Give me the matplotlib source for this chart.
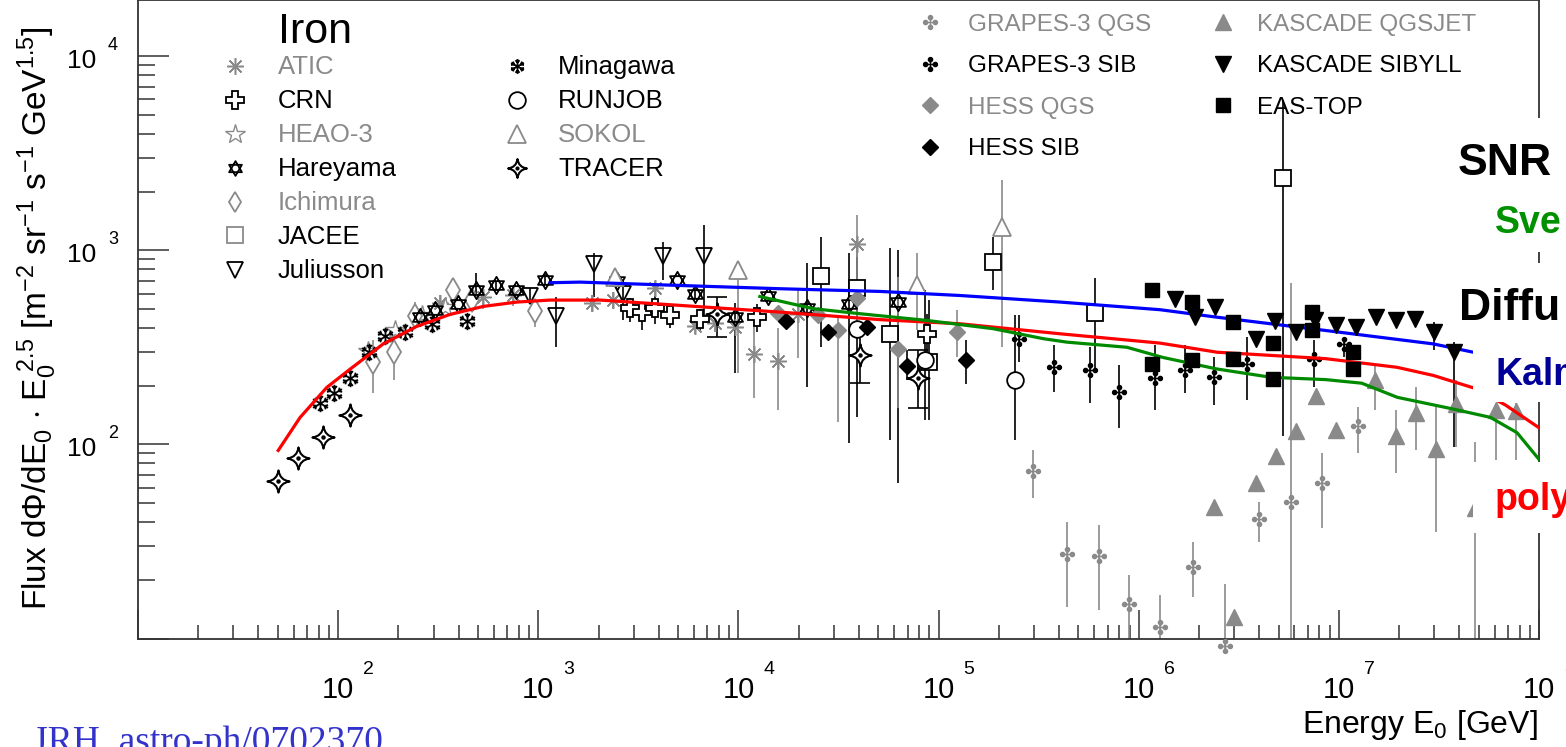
import numpy as np
import matplotlib
matplotlib.use('Agg')
import matplotlib.pyplot as plt
from matplotlib.path import Path
from matplotlib.patches import Rectangle
from matplotlib.ticker import LogLocator, NullFormatter

plt.rcParams['font.family'] = ['Liberation Sans', 'DejaVu Sans']
plt.rcParams['mathtext.fontset'] = 'custom'
plt.rcParams['mathtext.rm'] = 'Liberation Sans'
plt.rcParams['mathtext.it'] = 'Liberation Sans:italic'
plt.rcParams['mathtext.bf'] = 'Liberation Sans:bold'

# ---------------- data (energy in GeV, flux * E^2.5) ----------------
tracer_E = [50, 63, 84, 115, 7.8e3, 4.05e4, 7.9e4]
tracer_F = [65, 85, 109, 142, 473, 288, 221]
tracer_lo = [65, 85, 109, 142, 358, 207, 154]
tracer_hi = [65, 85, 109, 142, 576, 389, 307]

minagawa_E = [81, 95.5, 115, 142, 172, 216, 294, 439]
minagawa_F = [163, 184, 221, 299, 361, 379, 416, 432]

hareyama_E = [255, 305, 399, 488, 614, 773, 1080, 2470, 4960, 6080, 9640, 1.41e4, 2.2e4, 3.55e4, 6.25e4]
hareyama_F = [453, 494, 527, 627, 660, 627, 706, 700, 706, 598, 452, 586, 508, 531, 542]
hareyama_lo = [453, 494, 527, 524, 620, 627, 660, 660, 706, 560, 234, 586, 198, 102, 63]
hareyama_hi = [453, 494, 527, 766, 700, 627, 760, 740, 706, 640, 536, 586, 863, 971, 1005]

ichimura_E = [149, 190, 242, 375, 467, 964]
ichimura_F = [265, 298, 462, 622, 553, 485]
ichimura_lo = [184, 215, 413, 524, 500, 403]
ichimura_hi = [346, 376, 543, 632, 610, 555]

atic_E = [323, 530, 748, 1860, 2370, 3840, 6080, 7650, 9640, 1.2e4, 1.58e4, 1.99e4, 3.92e4]
atic_F = [533, 573, 587, 533, 553, 637, 410, 421, 401, 291, 268, 473, 1086]
atic_lo = [480, 500, 520, 480, 500, 580, 370, 380, 360, 174, 151, 279, 555]
atic_hi = [590, 640, 650, 590, 610, 700, 450, 470, 440, 512, 398, 634, 1521]

heao_E = [141, 192, 262, 342]
heao_F = [305, 387, 467, 514]

crn_E = [2880, 3290, 3840, 4560, 6440, 1.24e4, 8.77e4]
crn_F = [507, 481, 508, 467, 446, 452, 369]
crn_lo = [428, 389, 420, 400, 380, 380, 300]
crn_hi = [569, 537, 580, 530, 500, 530, 470]

jacee_E = [2.58e4, 3.91e4, 5.73e4, 8.98e4, 1.88e5, 6.07e5, 5.27e6]
jacee_F = [743, 637, 373, 266, 871, 475, 2350]
jacee_lo = [318, 139, 105, 134, 625, 242, 111]
jacee_hi = [1175, 927, 1027, 555, 1175, 721, 5970]

juliusson_E = [910, 1230, 1900, 2660, 4210, 6750]
juliusson_F = [586, 457, 848, 600, 942, 942]
juliusson_lo = [540, 318, 576, 438, 704, 438]
juliusson_hi = [640, 576, 968, 704, 1107, 1355]

sokol_E = [2420, 1.0e4, 7.78e4, 2.07e5]
sokol_F = [726, 794, 660, 1318]
sokol_lo = [726, 234, 389, 318]
sokol_hi = [726, 794, 971, 2306]

runjob_E = [3.91e4, 8.57e4, 2.42e5]
runjob_F = [396, 271, 216]
runjob_lo = [396, 134, 105]
runjob_hi = [396, 625, 465]

hess_sib_E = [1.73e4, 2.79e4, 4.37e4, 6.95e4, 1.37e5]
hess_sib_F = [432, 379, 402, 254, 271]
hess_sib_lo = [400, 350, 370, 215, 205]
hess_sib_hi = [470, 410, 440, 307, 346]

hess_qgs_E = [1.57e4, 2.49e4, 3.16e4, 3.93e4, 6.24e4, 1.23e5]
hess_qgs_F = [475, 466, 387, 570, 311, 382]
hess_qgs_lo = [435, 430, 131, 403, 154, 282]
hess_qgs_hi = [515, 505, 454, 1133, 731, 493]

grapes_sib_E = [2.53e5, 3.76e5, 5.69e5, 7.94e5, 1.2e6, 1.7e6, 2.38e6, 3.47e6, 7.48e6, 1.06e7]
grapes_sib_F = [348, 252, 241, 186, 219, 241, 222, 261, 277, 330]
grapes_sib_lo = [266, 187, 164, 122, 151, 184, 160, 169, 198, 282]
grapes_sib_hi = [465, 326, 318, 257, 326, 326, 282, 358, 346, 358]

grapes_qgs_E = [2.98e5, 4.38e5, 6.32e5, 8.99e5, 1.28e6, 1.86e6, 2.71e6, 3.97e6, 5.74e6, 8.22e6, 1.24e7]
grapes_qgs_F = [72.8, 27.3, 26.5, 15.1, 11.4, 23.3, 9.2, 41.4, 50.8, 63.2, 124]
grapes_qgs_lo = [53.0, 14.5, 14.0, 10, 10, 16.4, 8.7, 31.5, 10, 37.2, 90.3]
grapes_qgs_hi = [93.7, 39.9, 38.5, 21.2, 16.7, 31.5, 19.1, 50.6, 681, 90.3, 156]

kascade_qgs_E = [2.39e6, 3.01e6, 3.84e6, 4.85e6, 6.12e6, 7.70e6, 9.68e6, 1.52e7, 1.93e7, 2.42e7,
                 3.06e7, 3.86e7, 4.80e7, 6.08e7, 7.66e7]
kascade_qgs_F = [47.5, 12.9, 63.2, 87.7, 118, 177, 119, 214, 110, 145, 95.1, 162, 46.8, 150, 148]
kascade_qgs_lo = [47.5, 12.9, 63.2, 87.7, 118, 177, 119, 151, 71.3, 93.7, 35.4, 97, 10, 83.2, 83.2]
kascade_qgs_hi = [47.5, 12.9, 63.2, 87.7, 118, 177, 119, 257, 151, 198, 156, 215, 103, 164, 164]

kascade_sib_E = [1.52e6, 1.91e6, 2.40e6, 3.85e6, 4.82e6, 6.08e6, 7.62e6, 9.66e6, 1.22e7, 1.53e7,
                 1.92e7, 2.41e7, 2.98e7, 3.78e7]
kascade_sib_F = [564, 453, 514, 351, 432, 379, 436, 411, 402, 453, 436, 444, 378, 299]
kascade_sib_lo = [564, 453, 514, 351, 432, 379, 436, 411, 402, 453, 436, 444, 307, 97]
kascade_sib_hi = [564, 453, 514, 351, 432, 379, 436, 411, 402, 453, 436, 444, 428, 338]

eastop_E = [1.17e6, 1.84e6, 2.96e6, 4.68e6, 7.31e6, 1.18e7,
            1.17e6, 1.84e6, 2.96e6, 4.68e6, 7.31e6, 1.18e7]
eastop_F = [622, 542, 427, 333, 481, 299,
            261, 273, 277, 218, 387, 245]

# model curves
kalmykov_E = [1146, 1618, 5120, 1.62e4, 5.1e4, 1.28e5, 4.05e5, 1.28e6, 2.46e6, 8.57e6, 2.96e7, 4.69e7]
kalmykov_F = [682, 687, 660, 635, 615, 586, 542, 495, 453, 387, 330, 299]

poly_E = [50.2, 64.6, 87.8, 115, 168, 247, 362, 532, 781, 1146, 2040, 5120, 1.62e4, 5.1e4,
          1.28e5, 4.05e5, 1.28e6, 2.46e6, 8.57e6, 1.95e7, 2.96e7, 4.69e7, 6.78e7, 1e8]
poly_F = [93.2, 138, 197, 245, 330, 406, 468, 515, 542, 555, 555, 521, 481, 440,
          419, 372, 333, 299, 277, 250, 227, 196, 160, 122]

svesh_E = [1.28e4, 2.37e4, 4.06e4, 8.73e4, 1.88e5, 3.34e5, 4.37e5, 8.73e5, 1.32e6, 2.46e6,
           4.58e6, 8.57e6, 1.3e7, 1.96e7, 3.65e7, 5.71e7, 7.77e7, 1e8]
svesh_F = [579, 501, 472, 436, 395, 351, 337, 317, 281, 245, 222, 216, 207, 175, 153, 138, 115, 83.8]

x_exponents = [2, 3, 4, 5, 6, 7, 8]
y_exponents = [2, 3, 4]

# ---------------- marker shapes ----------------
def star4_path():
    c = 0.12
    verts = [(0, 1), (c, c), (1, 0), (c, -c), (0, -1), (-c, -c), (-1, 0), (-c, c), (0, 1), (0, 1)]
    codes = [Path.MOVETO] + [Path.CURVE3] * 8 + [Path.CLOSEPOLY]
    return Path(verts, codes)


def david_path():
    a = np.deg2rad([90, 210, 330])
    up = Path(list(zip(np.cos(a), np.sin(a))) + [(0, 0)], [1, 2, 2, 79])
    dn = Path(list(zip(np.cos(a + np.pi), np.sin(a + np.pi))) + [(0, 0)], [1, 2, 2, 79])
    return Path.make_compound_path(up, dn)


def snow_path():
    parts = []
    for ang in np.deg2rad([90, 150, 210, 270, 330, 30]):
        d = np.array([np.cos(ang), np.sin(ang)])
        p = np.array([-d[1], d[0]])
        parts.append(Path([(0, 0), tuple(d)], [1, 2]))
        base = 0.55 * d
        parts.append(Path([tuple(base + 0.3 * d + 0.28 * p), tuple(base), tuple(base + 0.3 * d - 0.28 * p)], [1, 2, 2]))
    return Path.make_compound_path(*parts)


def grape_path():
    parts = [Path([(-0.75, 0), (0.75, 0)], [1, 2]), Path([(0, -0.75), (0, 0.75)], [1, 2])]
    for cx, cy in [(0.6, 0), (-0.6, 0), (0, 0.6), (0, -0.6)]:
        parts.append(Path.circle((cx, cy), 0.26))
    return Path.make_compound_path(*parts)


STAR4 = star4_path()
DAVID = david_path()
SNOW = snow_path()
GRAPE = grape_path()

GREY = '#8a8a8a'
styles = {
    'ATIC': dict(marker=(8, 2, 0), ms=12, mec=GREY, mfc=GREY, mew=1.1),
    'CRN': dict(marker='P', ms=13, mec='black', mfc='white', mew=1.3),
    'HEAO-3': dict(marker='*', ms=15, mec=GREY, mfc='white', mew=1.0),
    'Hareyama': dict(marker=DAVID, ms=12.5, mec='black', mfc='none', mew=1.3),
    'Ichimura': dict(marker='d', ms=12.5, mec=GREY, mfc='white', mew=1.3),
    'JACEE': dict(marker='s', ms=11.5, mec='black', mfc='white', mew=1.3),
    'Juliusson': dict(marker='v', ms=12, mec='black', mfc='none', mew=1.3),
    'Minagawa': dict(marker=SNOW, ms=12.5, mec='black', mfc='none', mew=1.3),
    'RUNJOB': dict(marker='o', ms=12, mec='black', mfc='white', mew=1.3),
    'SOKOL': dict(marker='^', ms=13, mec=GREY, mfc='white', mew=1.3),
    'TRACER': dict(marker=STAR4, ms=16, mec='black', mfc='white', mew=1.5),
    'GRAPES-3 QGS': dict(marker=GRAPE, ms=10, mec=GREY, mfc=GREY, mew=1.0),
    'GRAPES-3 SIB': dict(marker=GRAPE, ms=10, mec='black', mfc='black', mew=1.0),
    'HESS QGS': dict(marker='D', ms=8.5, mec=GREY, mfc=GREY, mew=1.0),
    'HESS SIB': dict(marker='D', ms=8.5, mec='black', mfc='black', mew=1.0),
    'KASCADE QGSJET': dict(marker='^', ms=11, mec=GREY, mfc=GREY, mew=1.0),
    'KASCADE SIBYLL': dict(marker='v', ms=11, mec='black', mfc='black', mew=1.0),
    'EAS-TOP': dict(marker='s', ms=10.5, mec='black', mfc='black', mew=1.0),
}

W, H = 1566, 747
fig = plt.figure(figsize=(W / 100, H / 100), dpi=100)
ax = fig.add_axes([138 / W, 1 - 638.5 / H, (1539 - 138) / W, 638.5 / H])
ax.set_xscale('log')
ax.set_yscale('log')
ax.set_xlim(10, 1e8)
ax.set_ylim(10, 10 ** 4.291)


def draw(name, E, F, lo=None, hi=None, z=3, caps=0, clip=True):
    st = styles[name]
    E = np.asarray(E, float)
    F = np.asarray(F, float)
    ecol = st['mec']
    if lo is not None:
        lo = np.asarray(lo, float)
        hi = np.asarray(hi, float)
        eb = ax.errorbar(E, F, yerr=[F - lo, hi - F], fmt='none', ecolor=ecol,
                         elinewidth=1.2, capsize=caps, capthick=1.2, zorder=2)
        for art in list(eb.lines[1]) + list(eb.lines[2]):
            art.set_clip_on(clip)
    ax.plot(E, F, linestyle='none', zorder=z, clip_on=clip, **st)


draw('ATIC', atic_E, atic_F, atic_lo, atic_hi)
draw('HEAO-3', heao_E, heao_F)
draw('Ichimura', ichimura_E, ichimura_F, ichimura_lo, ichimura_hi)
draw('Minagawa', minagawa_E, minagawa_F)
draw('Hareyama', hareyama_E, hareyama_F, hareyama_lo, hareyama_hi)
draw('CRN', crn_E, crn_F, crn_lo, crn_hi)
draw('JACEE', jacee_E, jacee_F, jacee_lo, jacee_hi)
draw('Juliusson', juliusson_E, juliusson_F, juliusson_lo, juliusson_hi)
draw('SOKOL', sokol_E, sokol_F, sokol_lo, sokol_hi)
draw('RUNJOB', runjob_E, runjob_F, runjob_lo, runjob_hi)
draw('TRACER', tracer_E, tracer_F, tracer_lo, tracer_hi, caps=7)
ax.plot(tracer_E, tracer_F, linestyle='none', marker='o', ms=2.2, color='black', zorder=3)
draw('HESS QGS', hess_qgs_E, hess_qgs_F, hess_qgs_lo, hess_qgs_hi)
draw('HESS SIB', hess_sib_E, hess_sib_F, hess_sib_lo, hess_sib_hi)
draw('GRAPES-3 QGS', grapes_qgs_E, grapes_qgs_F, grapes_qgs_lo, grapes_qgs_hi, clip=False)
draw('GRAPES-3 SIB', grapes_sib_E, grapes_sib_F, grapes_sib_lo, grapes_sib_hi)
draw('KASCADE QGSJET', kascade_qgs_E, kascade_qgs_F, kascade_qgs_lo, kascade_qgs_hi)

ax.plot(kalmykov_E, kalmykov_F, color='#0000ff', lw=2.3, zorder=4)
ax.plot(poly_E, poly_F, color='#ff0000', lw=2.3, zorder=4)
ax.plot(svesh_E, svesh_F, color='#008a00', lw=2.3, zorder=4)

draw('KASCADE SIBYLL', kascade_sib_E, kascade_sib_F, kascade_sib_lo, kascade_sib_hi, z=5)
draw('EAS-TOP', eastop_E, eastop_F, z=5)

# ---------------- axes styling ----------------
for side in ['left', 'bottom', 'right', 'top']:
    ax.spines[side].set_color('#333333')
    ax.spines[side].set_linewidth(1.3)
ax.xaxis.set_major_locator(LogLocator(base=10, numticks=20))
ax.xaxis.set_minor_locator(LogLocator(base=10, subs=np.arange(2, 10), numticks=20))
ax.yaxis.set_major_locator(LogLocator(base=10, numticks=20))
ax.yaxis.set_minor_locator(LogLocator(base=10, subs=np.arange(2, 10), numticks=20))
ax.xaxis.set_minor_formatter(NullFormatter())
ax.yaxis.set_minor_formatter(NullFormatter())
ax.tick_params(which='both', direction='in', top=False, right=False,
               labelbottom=False, labelleft=False, color='#333333', width=1.1)
ax.tick_params(axis='x', which='major', length=21)
ax.tick_params(axis='x', which='minor', length=10)
ax.tick_params(axis='y', which='major', length=22)
ax.tick_params(axis='y', which='minor', length=12)

for e in x_exponents:
    ax.annotate('10', xy=(10.0 ** e, 0), xycoords=('data', 'axes fraction'), xytext=(0, -60),
                textcoords='offset pixels', ha='center', va='baseline', fontsize=21,
                annotation_clip=False)
    ax.annotate(str(e), xy=(10.0 ** e, 0), xycoords=('data', 'axes fraction'), xytext=(25, -36),
                textcoords='offset pixels', ha='left', va='baseline', fontsize=14,
                annotation_clip=False)
for e in y_exponents:
    ax.annotate('10', xy=(0, 10.0 ** e), xycoords=('axes fraction', 'data'), xytext=(-42, -12),
                textcoords='offset pixels', ha='right', va='baseline', fontsize=19,
                annotation_clip=False)
    ax.annotate(str(e), xy=(0, 10.0 ** e), xycoords=('axes fraction', 'data'), xytext=(-30, 6),
                textcoords='offset pixels', ha='left', va='baseline', fontsize=13,
                annotation_clip=False)

fig.text(1538 / W, 1 - 733 / H, r'Energy E$_0$ [GeV]', ha='right', va='baseline', fontsize=23)
fig.text(37 / W, 1 - 610 / H,
         r'Flux d$\Phi$/dE$_0$ $\cdot$ E$_0^{\ 2.5}$ [m$^{-2}$ sr$^{-1}$ s$^{-1}$ GeV$^{1.5}$]',
         rotation=90, ha='center', va='bottom', fontsize=24)

# ---------------- legend ----------------
fig.text(278 / W, 1 - 43 / H, 'Iron', ha='left', va='baseline', fontsize=31)

grey_labels = {'ATIC', 'HEAO-3', 'Ichimura', 'SOKOL', 'GRAPES-3 QGS', 'HESS QGS', 'KASCADE QGSJET'}
legend_cols = [
    (['ATIC', 'CRN', 'HEAO-3', 'Hareyama', 'Ichimura', 'JACEE', 'Juliusson'], 235, 278, 65.5, 34.0, 18.5),
    (['Minagawa', 'RUNJOB', 'SOKOL', 'TRACER'], 517, 558, 65.5, 34.0, 18.5),
    (['GRAPES-3 QGS', 'GRAPES-3 SIB', 'HESS QGS', 'HESS SIB'], 930, 968, 22, 41.5, 17.5),
    (['KASCADE QGSJET', 'KASCADE SIBYLL', 'EAS-TOP'], 1223, 1257, 22, 41.5, 17.5),
]
for labels, mx, tx, y0, dy, fs in legend_cols:
    for i, lab in enumerate(labels):
        yy = y0 + i * dy
        st = dict(styles[lab])
        if lab == 'JACEE':
            st['mec'] = GREY
        if lab in ('TRACER', 'Hareyama', 'Minagawa', 'Ichimura'):
            st['ms'] = st['ms'] * 0.85
        ax.plot([mx / W], [1 - yy / H], transform=fig.transFigure, clip_on=False,
                linestyle='none', zorder=6, **st)
        if lab == 'TRACER':
            ax.plot([mx / W], [1 - yy / H], transform=fig.transFigure, clip_on=False,
                    marker='o', ms=2, color='black', zorder=6)
        fig.text(tx / W, 1 - (yy + 8.7) / H, lab, ha='left', va='baseline', fontsize=fs,
                 color=GREY if lab in grey_labels else 'black')

# ---------------- slide overlays on the right ----------------
for x0, y0, x1, y1 in [(1440, 118, 1566, 252), (1450, 263, 1566, 330),
                       (1473, 330, 1566, 402), (1473, 462, 1566, 533)]:
    fig.add_artist(Rectangle((x0 / W, 1 - y1 / H), (x1 - x0) / W, (y1 - y0) / H,
                             transform=fig.transFigure, facecolor='white', edgecolor='none', zorder=10))
fig.text(1458 / W, 1 - 175 / H, 'SNR', ha='left', va='baseline', fontsize=32,
         fontweight='bold', color='black', zorder=11)
fig.text(1495 / W, 1 - 233 / H, 'Sve', ha='left', va='baseline', fontsize=27,
         fontweight='bold', color='#009000', zorder=11)
fig.text(1459 / W, 1 - 320 / H, 'Diffu', ha='left', va='baseline', fontsize=32,
         fontweight='bold', color='black', zorder=11)
fig.text(1495 / W, 1 - 385 / H, 'Kalm', ha='left', va='baseline', fontsize=27,
         fontweight='bold', color='#000099', zorder=11)
fig.text(1495 / W, 1 - 510 / H, 'poly', ha='left', va='baseline', fontsize=27,
         fontweight='bold', color='#ff0000', zorder=11)

fig.text(33 / W, 1 - 752 / H, 'JRH, astro-ph/0702370', ha='left', va='baseline',
         fontsize=27, family='Liberation Serif', color='#3333cc')

fig.savefig('out.png', dpi=100)
